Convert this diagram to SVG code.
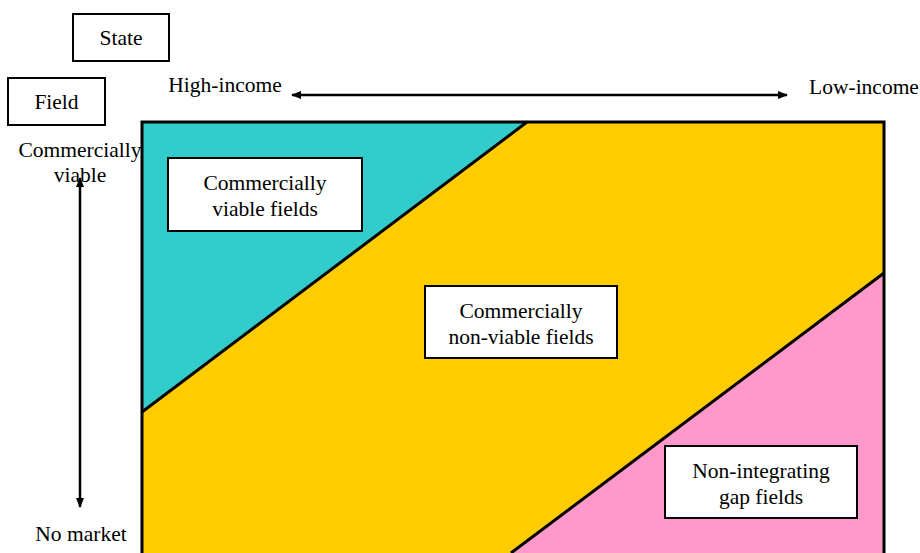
<svg xmlns="http://www.w3.org/2000/svg" width="920" height="553" viewBox="0 0 920 553">
<defs>
<marker id="ah" markerWidth="10" markerHeight="8" refX="9" refY="4" orient="auto-start-reverse" markerUnits="userSpaceOnUse">
<path d="M0,0 L10,4 L0,8 Z" fill="#000"/>
</marker>
<style>
text{font-family:'Liberation Serif','Times New Roman',serif;font-size:21.5px;fill:#000;text-anchor:middle}
.box{fill:#fff;stroke:#000;stroke-width:2}
.edge{stroke:#000;stroke-width:3;fill:none}
</style>
</defs>
<rect width="920" height="553" fill="#fff"/>
<g id="regions">
<rect x="142" y="122" width="742" height="440" fill="#FFCC00"/>
<polygon points="142,122 527,122 142,412" fill="#33CCCC"/>
<polygon points="884,273 884,560 502,560" fill="#FF99CC"/>
<line class="edge" x1="527" y1="122" x2="142" y2="412" stroke-width="2.5"/>
<line class="edge" x1="884" y1="273" x2="511" y2="553" stroke-width="2.5"/>
<path class="edge" d="M142,560 V122 H884 V560"/>
</g>
<g font-family="Liberation Serif, serif">
<g id="state"><rect class="box" x="73" y="14" width="96" height="47"/><text x="121" y="45">State</text></g>
<g id="field"><rect class="box" x="8" y="78" width="97" height="47"/><text x="56.5" y="109">Field</text></g>
<g id="viable"><rect class="box" x="168" y="158" width="194" height="73"/><text x="265" y="190">Commercially</text><text x="265" y="216">viable fields</text></g>
<g id="nonviable"><rect class="box" x="425" y="286" width="192" height="72"/><text x="521" y="318">Commercially</text><text x="521" y="344">non-viable fields</text></g>
<g id="gap"><rect class="box" x="665" y="446" width="192" height="72"/><text x="761" y="478">Non-integrating</text><text x="761" y="504">gap fields</text></g>
</g>
<g id="connectors">
<line x1="292" y1="95" x2="787" y2="95" stroke="#000" stroke-width="2.5" marker-start="url(#ah)" marker-end="url(#ah)"/>
<line x1="80" y1="178" x2="80" y2="507" stroke="#000" stroke-width="2.5" marker-start="url(#ah)" marker-end="url(#ah)"/>
</g>
<g id="labels">
<text x="225" y="92">High-income</text>
<text x="864" y="94">Low-income</text>
<text x="80" y="157">Commercially</text>
<text x="80" y="182">viable</text>
<text x="81" y="541">No market</text>
</g>
</svg>
